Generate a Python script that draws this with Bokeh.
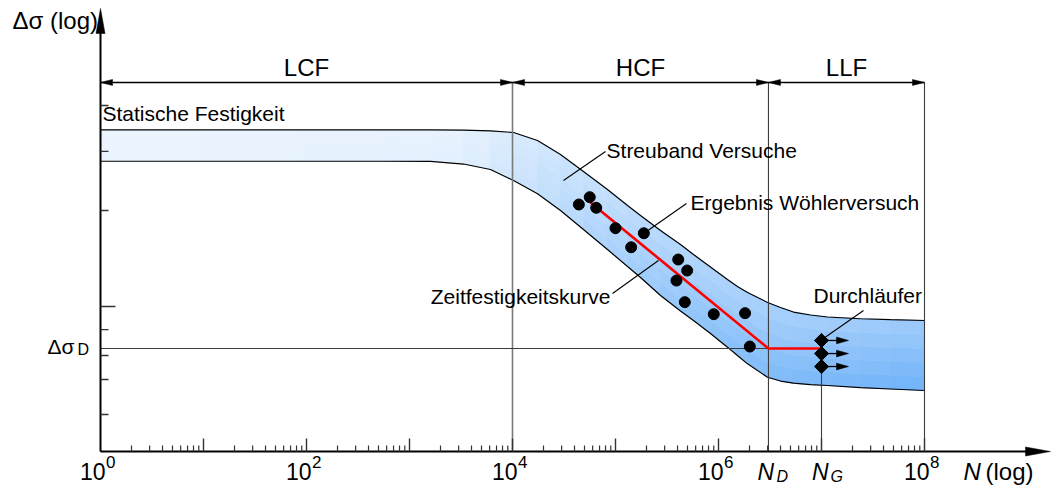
import numpy as np
from bokeh.plotting import figure
from bokeh.models import Range1d
from bokeh.core.properties import value
from bokeh.embed import file_html
from bokeh.resources import INLINE

# ---------------- data (x = log10 N, y = relative log stress, Δσ_D = 1) ----------------
decades = [0, 2, 4, 6, 8]
decade_exponents = ["0", "2", "4", "6", "8"]
log_N_D = 6.485
log_N_G = 7.0
log_dsig_D = 1.0

band_log_n = [0.000, 0.971, 1.942, 2.718, 3.204, 3.524, 3.786, 4.010, 4.243, 4.466,
              4.689, 4.922, 5.117, 5.243, 5.437, 5.631, 5.757, 5.922, 6.087, 6.184,
              6.282, 6.476, 6.602, 6.728, 6.893, 7.058, 7.379, 7.670, 8.000]
band_upper = [3.123, 3.123, 3.123, 3.123, 3.123, 3.121, 3.112, 3.097, 3.019, 2.883,
              2.718, 2.544, 2.388, 2.291, 2.146, 2.010, 1.913, 1.791, 1.670, 1.602,
              1.544, 1.447, 1.398, 1.354, 1.325, 1.306, 1.289, 1.280, 1.272]
band_lower = [2.818, 2.818, 2.818, 2.818, 2.816, 2.791, 2.738, 2.631, 2.502, 2.340,
              2.155, 1.961, 1.796, 1.689, 1.515, 1.364, 1.272, 1.146, 1.013, 0.932,
              0.851, 0.721, 0.684, 0.663, 0.650, 0.641, 0.621, 0.607, 0.592]

test_log_n = [4.644, 4.750, 4.813, 5.000, 5.152, 5.275, 5.609, 5.696, 5.592, 5.673, 5.954, 6.258, 6.304]
test_log_s = [2.398, 2.469, 2.366, 2.168, 1.983, 2.119, 1.864, 1.757, 1.660, 1.450, 1.333, 1.343, 1.019]

woehler_log_n = [4.757, log_N_D, log_N_G]
woehler_log_s = [2.417, log_dsig_D, log_dsig_D]

runout_log_s = [1.078, 0.951, 0.825]

y_minor_ticks = [3.359, 2.913, 2.340, 1.184, 0.932, 0.699, 0.359]
y_major_ticks = [1.408]

regions = ["LCF", "HCF", "LLF"]
region_bounds = [0, 4, log_N_D, 8]

# ---------------- styling ----------------
PX = 1 / 103.0           # one screen pixel in data units (both axes share the scale)
FONT = value("Liberation Sans")
DIM_Y = 3.583            # height of the dimension line
X_TIP = 9.223
Y_TIP = 4.301
TY = -9                  # baseline correction of the SVG text renderer (pixels)

p = figure(width=1055, height=486, output_backend="svg", toolbar_location=None,
           x_range=Range1d(-100 * PX, 955 * PX), y_range=Range1d(-35 * PX, 451 * PX),
           x_axis_location=None, y_axis_location=None, min_border=0)
p.grid.visible = False
p.outline_line_color = None
p.background_fill_color = "white"
p.border_fill_color = "white"

def txt(x, y, text, size, align="left", style="normal", x_offset=0, y_offset=0):
    p.text(x=x, y=y, text=text, x_offset=x_offset, y_offset=y_offset + TY,
           text_font=FONT, text_font_size=size, text_font_style=style,
           text_align=align, text_baseline="alphabetic", text_color="black")

# ---------------- scatter band with gradient ----------------
L = np.array([238, 246, 254])
D = np.array([96, 170, 248])
gx = [0, 3.5, 4.5, 5.5, 6.5, 8]
gd = [0.02, 0.08, 0.36, 0.62, 0.78, 0.90]
nlay = 5
xs_b, ys_b, cols = [], [], []
for i in range(len(band_log_n) - 1):
    x0, x1 = band_log_n[i], band_log_n[i + 1]
    lo0, lo1 = band_lower[i], band_lower[i + 1]
    h0, h1 = band_upper[i] - lo0, band_upper[i + 1] - lo1
    d = float(np.interp(0.5 * (x0 + x1), gx, gd))
    for k in range(nlay):
        f0, f1 = k / nlay, (k + 1) / nlay
        v = (k + 0.5) / nlay
        dd = d * (1 - 0.38 * v)
        c = (L + (D - L) * dd).round().astype(int)
        xs_b.append([x0, x1, x1, x0])
        ys_b.append([lo0 + f0 * h0, lo1 + f0 * h1, lo1 + f1 * h1, lo0 + f1 * h0])
        cols.append("#%02x%02x%02x" % tuple(c))
p.patches(xs_b, ys_b, fill_color=cols, line_color=cols, line_width=0.8)
p.line(band_log_n, band_upper, line_color="black", line_width=1.2)
p.line(band_log_n, band_lower, line_color="black", line_width=1.2)

# ---------------- reference lines ----------------
p.segment(x0=[4], y0=[0], x1=[4], y1=[DIM_Y], line_color="#7a7a7a", line_width=1.6)
p.segment(x0=[log_N_D, 8], y0=[0, 0], x1=[log_N_D, 8], y1=[DIM_Y, DIM_Y],
          line_color="#3c3c3c", line_width=1.1)
p.segment(x0=[log_N_G], y0=[0], x1=[log_N_G], y1=[runout_log_s[0]],
          line_color="#3c3c3c", line_width=1.1)
p.segment(x0=[0], y0=[log_dsig_D], x1=[log_N_D], y1=[log_dsig_D],
          line_color="#3c3c3c", line_width=1.1)

# ---------------- Wöhler line, test points, run-outs ----------------
p.line(woehler_log_n, woehler_log_s, line_color="#ff0000", line_width=2.6)
p.scatter(test_log_n, test_log_s, size=11, marker="circle", fill_color="black", line_color="black")

tri_x, tri_y = [], []
def head(tx, ty, dx, dy, length, half):
    bx, by = tx - dx * length, ty - dy * length
    nx, ny = -dy, dx
    tri_x.append([tx, bx + nx * half, bx - nx * half])
    tri_y.append([ty, by + ny * half, by - ny * half])

for s in runout_log_s:
    p.segment(x0=[log_N_G + 6 * PX], y0=[s], x1=[log_N_G + 17 * PX], y1=[s],
              line_color="black", line_width=1.3)
    head(log_N_G + 27 * PX, s, 1, 0, 12 * PX, 3.4 * PX)
p.scatter([log_N_G] * len(runout_log_s), runout_log_s, marker="square", angle=np.pi / 4,
          size=10, fill_color="black", line_color="black")

# ---------------- dimension line with regions ----------------
p.segment(x0=[region_bounds[0]], y0=[DIM_Y], x1=[region_bounds[-1]], y1=[DIM_Y],
          line_color="black", line_width=1.5)
for a, b in zip(region_bounds[:-1], region_bounds[1:]):
    head(a, DIM_Y, -1, 0, 12 * PX, 3 * PX)
    head(b, DIM_Y, 1, 0, 12 * PX, 3 * PX)
txt([0.5 * (a + b) for a, b in zip(region_bounds[:-1], region_bounds[1:])],
    [DIM_Y + 6 * PX] * 3, regions, "24px", align="center")

# ---------------- axes ----------------
p.segment(x0=[0, 0], y0=[0, 0], x1=[X_TIP - 20 * PX, 0], y1=[0, Y_TIP - 22 * PX],
          line_color="black", line_width=2)
head(X_TIP, 0, 1, 0, 25 * PX, 4.5 * PX)
head(0, Y_TIP, 0, 1, 25 * PX, 4.5 * PX)
p.patches(tri_x, tri_y, fill_color="black", line_color="black", line_width=0.5)

major_x = list(range(1, 9))
minor_x = [d + np.log10(k) for d in range(0, 8) for k in range(2, 10)]
p.segment(x0=major_x, y0=[0] * len(major_x), x1=major_x, y1=[13 * PX] * len(major_x),
          line_color="#333333", line_width=1.4)
p.segment(x0=minor_x, y0=[0] * len(minor_x), x1=minor_x, y1=[6 * PX] * len(minor_x),
          line_color="#333333", line_width=1.2)
p.segment(x0=[0] * len(y_minor_ticks), y0=y_minor_ticks, x1=[8 * PX] * len(y_minor_ticks),
          y1=y_minor_ticks, line_color="#333333", line_width=1.3)
p.segment(x0=[0] * len(y_major_ticks), y0=y_major_ticks, x1=[15 * PX] * len(y_major_ticks),
          y1=y_major_ticks, line_color="#333333", line_width=1.3)

# tick labels 10^k
LAB_Y = -29 * PX
txt(decades, [LAB_Y] * len(decades), ["10"] * len(decades), "23px", align="right", x_offset=5)
txt(decades, [-19 * PX] * len(decades), decade_exponents, "17px", x_offset=5.5)

# N_D, N_G
txt([log_N_D, log_N_G], [LAB_Y] * 2, ["N", "N"], "23px", style="italic", x_offset=[-11, -9.5])
txt([log_N_D, log_N_G], [-34 * PX] * 2, ["D", "G"], "16px", style="italic", x_offset=[8, 9])

# axis titles
txt([X_TIP - 87 * PX], [LAB_Y], ["N"], "24px", style="italic")
txt([X_TIP - 65 * PX], [LAB_Y], ["(log)"], "24px")
txt([-88 * PX], [Y_TIP - 21 * PX], ["Δσ (log)"], "24px")

# Δσ_D label
txt([0], [log_dsig_D], ["Δσ"], "21px", x_offset=-53, y_offset=7)
txt([0], [log_dsig_D], ["D"], "16px", x_offset=-23, y_offset=10)

# ---------------- annotations ----------------
leader_x0 = [4.495, 5.301, 4.971, 7.019]
leader_y0 = [2.631, 2.136, 1.534, 1.097]
leader_x1 = [4.903, 5.689, 5.417, 7.408]
leader_y1 = [2.913, 2.408, 1.854, 1.369]
p.segment(x0=leader_x0, y0=leader_y0, x1=leader_x1, y1=leader_y1,
          line_color="black", line_width=1.1)

ann_text = ["Statische Festigkeit", "Streuband Versuche", "Ergebnis Wöhlerversuch", "Durchläufer"]
ann_x = [0.019, 4.913, 5.728, 6.922]
ann_y = [3.194, 2.835, 2.330, 1.427]
txt(ann_x, ann_y, ann_text, "21px")
txt([4.951], [1.417], ["Zeitfestigkeitskurve"], "21px", align="right")

open("out.html", "w").write(file_html(p, INLINE))
